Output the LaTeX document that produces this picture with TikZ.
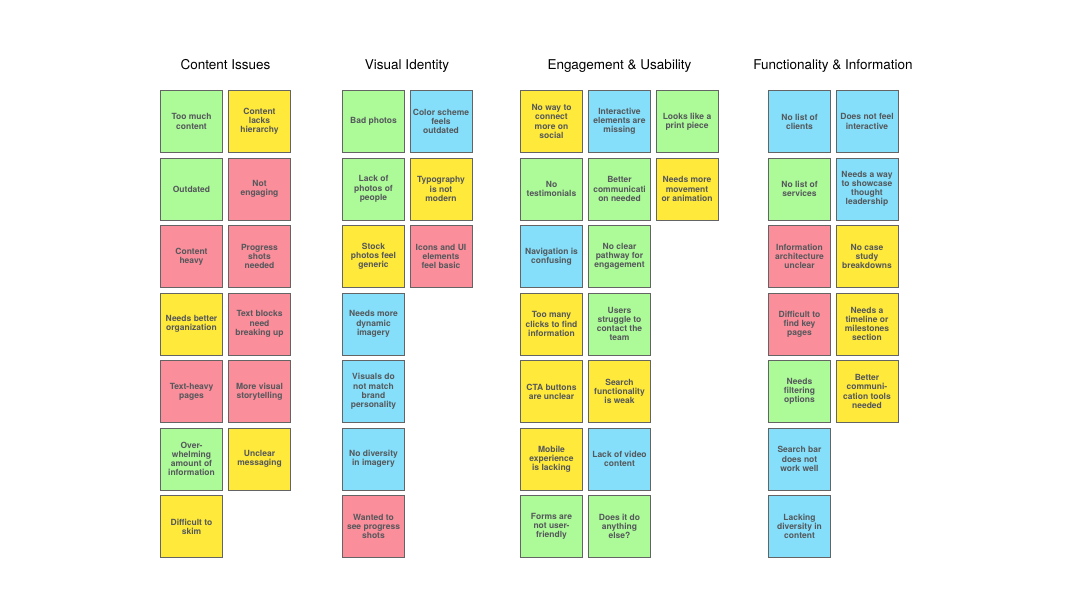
\documentclass[tikz,border=0pt]{standalone}
\usepackage{fontspec}
\setmainfont{TeX Gyre Heros}
\usepackage{tikz}
\usetikzlibrary{positioning}
\usepackage{xcolor}
\definecolor{notegreen}{HTML}{ADFA98}
\definecolor{noteyellow}{HTML}{FFE93B}
\definecolor{notepink}{HTML}{FA8E9B}
\definecolor{noteblue}{HTML}{85DFFA}
\definecolor{notetext}{HTML}{55585C}
\definecolor{noteedge}{HTML}{646464}

\begin{document}
\begin{tikzpicture}[
x=1pt, y=-1pt,
note/.style={draw=noteedge, line width=0.9pt, minimum width=62pt, minimum height=62pt, inner sep=0pt, align=center, text=notetext, font=\fontsize{8.5}{9.2}\selectfont\bfseries},
gn/.style={note, fill=notegreen},
yl/.style={note, fill=noteyellow},
pk/.style={note, fill=notepink},
bl/.style={note, fill=noteblue},
ttl/.style={anchor=base, font=\fontsize{13.5}{15}\selectfont, text=black}
]
\useasboundingbox (0,0) rectangle (1080,608);
\fill[white] (0,0) rectangle (1080,608);

% content issues
\node[ttl] (tcont) at (225.5,69) {Content Issues};
\node[gn] (toomuch)   at (191.5,121.5) {Too much\\content};
\node[yl] (hierarchy) at (259.5,121.5) {Content\\lacks\\hierarchy};
\node[gn] (outdated)  at (191.5,189) {Outdated};
\node[pk] (notengage) at (259.5,189) {Not\\engaging};
\node[pk] (contheavy) at (191.5,256.5) {Content\\heavy};
\node[pk] (progress)  at (259.5,256.5) {Progress\\shots\\needed};
\node[yl] (organize)  at (191.5,324) {Needs better\\organization};
\node[pk] (textblock) at (259.5,324) {Text blocks\\need\\breaking up};
\node[pk] (textheavy) at (191.5,391.5) {Text-heavy\\pages};
\node[pk] (story)     at (259.5,391.5) {More visual\\storytelling};
\node[gn] (overwhelm) at (191.5,459) {Over-\\whelming\\amount of\\information};
\node[yl] (unclear)   at (259.5,459) {Unclear\\messaging};
\node[yl] (skim)      at (191.5,526.5) {Difficult to\\skim};

% visual identity
\node[ttl] (tvis) at (407,69) {Visual Identity};
\node[gn] (badphoto)  at (373.5,121.5) {Bad photos};
\node[bl] (scheme)    at (441,121.5) {Color scheme\\feels\\outdated};
\node[gn] (people)    at (373.5,189) {Lack of\\photos of\\people};
\node[yl] (typo)      at (441,189) {Typography\\is not\\modern};
\node[yl] (stock)     at (373.5,256.5) {Stock\\photos feel\\generic};
\node[pk] (icons)     at (441,256.5) {Icons and UI\\elements\\feel basic};
\node[bl] (dynamic)   at (373.5,324) {Needs more\\dynamic\\imagery};
\node[bl] (brand)     at (373.5,391.5) {Visuals do\\not match\\brand\\personality};
\node[bl] (diversity) at (373.5,459) {No diversity\\in imagery};
\node[pk] (wanted)    at (373.5,526.5) {Wanted to\\see progress\\shots};

% engagement & usability
\node[ttl] (teng) at (619.5,69) {Engagement \& Usability};
\node[yl] (social)    at (551.5,121.5) {No way to\\connect\\more on\\social};
\node[bl] (interact)  at (619.5,121.5) {Interactive\\elements are\\missing};
\node[gn] (print)     at (687,121.5) {Looks like a\\print piece};
\node[gn] (testim)    at (551.5,189) {No\\testimonials};
\node[gn] (commun)    at (619.5,189) {Better\\communicati\\on needed};
\node[yl] (movement)  at (687,189) {Needs more\\movement\\or animation};
\node[bl] (navig)     at (551.5,256.5) {Navigation is\\confusing};
\node[gn] (pathway)   at (619.5,256.5) {No clear\\pathway for\\engagement};
\node[yl] (clicks)    at (551.5,324) {Too many\\clicks to find\\information};
\node[gn] (contact)   at (619.5,324) {Users\\struggle to\\contact the\\team};
\node[yl] (cta)       at (551.5,391.5) {CTA buttons\\are unclear};
\node[yl] (search)    at (619.5,391.5) {Search\\functionality\\is weak};
\node[yl] (mobile)    at (551.5,459) {Mobile\\experience\\is lacking};
\node[bl] (video)     at (619.5,459) {Lack of video\\content};
\node[gn] (forms)     at (551.5,526.5) {Forms are\\not user-\\friendly};
\node[gn] (anything)  at (619.5,526.5) {Does it do\\anything\\else?};

% functionality & information
\node[ttl] (tfun) at (833,69) {Functionality \& Information};
\node[bl] (clients)   at (799.5,121.5) {No list of\\clients};
\node[bl] (feelint)   at (867,121.5) {Does not feel\\interactive};
\node[gn] (services)  at (799.5,189) {No list of\\services};
\node[bl] (showcase)  at (867,189) {Needs a way\\to showcase\\thought\\leadership};
\node[pk] (archit)    at (799.5,256.5) {Information\\architecture\\unclear};
\node[yl] (casestudy) at (867,256.5) {No case\\study\\breakdowns};
\node[pk] (keypages)  at (799.5,324) {Difficult to\\find key\\pages};
\node[yl] (timeline)  at (867,324) {Needs a\\timeline or\\milestones\\section};
\node[gn] (filter)    at (799.5,391.5) {Needs\\filtering\\options};
\node[yl] (tools)     at (867,391.5) {Better\\communi-\\cation tools\\needed};
\node[bl] (searchbar) at (799.5,459) {Search bar\\does not\\work well};
\node[bl] (lacking)   at (799.5,526.5) {Lacking\\diversity in\\content};
\end{tikzpicture}
\end{document}
